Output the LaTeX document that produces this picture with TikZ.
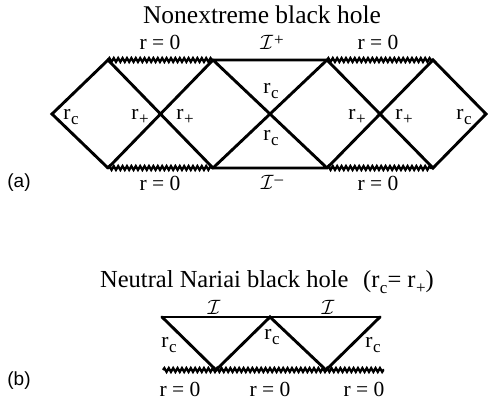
\documentclass[tikz,border=0pt]{standalone}
\usepackage{fontspec}
\setmainfont{Liberation Serif}
\setsansfont{Liberation Sans}
\usetikzlibrary{decorations.pathmorphing}
\newcommand{\rsb}[1]{r\kern0.02em\raisebox{-0.55ex}{\fontsize{17}{17}\selectfont #1}}
\newcommand{\scri}[1]{$\mathcal{I}$\kern0.05em\raisebox{0.35ex}{\fontsize{17}{17}\selectfont #1}}
\begin{document}
\begin{tikzpicture}[x=1pt,y=-1pt,
  edge/.style={line width=2.9pt,line cap=round,line join=miter},
  sing/.style={line width=2.3pt,decorate,decoration={snake,segment length=4.4pt,amplitude=1.9pt}},
  lab/.style={inner sep=0pt,font=\fontsize{21.5}{24}\selectfont},
  ttl/.style={inner sep=0pt,font=\fontsize{25.5}{29}\selectfont},
  ttlb/.style={inner sep=0pt,font=\fontsize{24.5}{28}\selectfont},
  tag/.style={inner sep=0pt,font=\sffamily\fontsize{19}{22}\selectfont}]
\useasboundingbox (0,0) rectangle (488,403);
% ---- (a) vertices
\coordinate (L) at (52,114);
\coordinate (T1) at (108,60);  \coordinate (B1) at (108,168);
\coordinate (T2) at (213,60);  \coordinate (B2) at (213,168);
\coordinate (T3) at (327,60);  \coordinate (B3) at (327,168);
\coordinate (T4) at (433,60);  \coordinate (B4) at (433,168);
\coordinate (R) at (486,114);
\draw[sing] (T1) -- (T2);
\draw[sing] (B1) -- (B2);
\draw[sing] (T3) -- (T4);
\draw[sing] (B3) -- (B4);
\draw[edge] (B1) -- (L) -- (T1) -- (B2) -- (B3) -- (T4) -- (R) -- (B4) -- (T3) -- (T2) -- (B3);
\draw[edge] (B2) -- (T3);
\draw[edge] (T2) -- (B1);
% ---- (a) labels
\node[ttl] (ta) at (262,15) {Nonextreme black hole};
\node[lab] (z1) at (160,42) {r = 0};
\node[lab] (z2) at (378,42) {r = 0};
\node[lab] (z3) at (160,183) {r = 0};
\node[lab] (z4) at (378,183) {r = 0};
\node[lab] (sp) at (272,42) {\scri{+}};
\node[lab] (sm) at (272,182) {\scri{\raisebox{0.1ex}{--}}};
\node[lab] (c1) at (71,117) {\rsb{c}};
\node[lab] (p1) at (140,117) {\rsb{+}};
\node[lab] (p2) at (185,117) {\rsb{+}};
\node[lab] (c2) at (271,91) {\rsb{c}};
\node[lab] (c3) at (271,138) {\rsb{c}};
\node[lab] (p3) at (357,117) {\rsb{+}};
\node[lab] (p4) at (404,117) {\rsb{+}};
\node[lab] (c4) at (464,117) {\rsb{c}};
\node[tag] (a) at (19,183) {(a)};
% ---- (b)
\coordinate (P1) at (162,317);
\coordinate (P2) at (270,317);
\coordinate (P3) at (380,317);
\coordinate (Q1) at (216,370);
\coordinate (Q2) at (326,370);
\coordinate (W1) at (163,370);
\coordinate (W2) at (384,370);
\draw[sing] (W1) -- (W2);
\draw[edge] (P1) -- (P3);
\draw[edge] (P1) -- (Q1) -- (P2) -- (Q2) -- (P3);
\node[ttlb] (tb) at (267,282) {Neutral Nariai black hole\hspace{0.6em}(\rsb{c}= \rsb{+})};
\node[lab] (s1) at (214,307) {$\mathcal{I}$};
\node[lab] (s2) at (328,307) {$\mathcal{I}$};
\node[lab] (d1) at (169,345) {\rsb{c}};
\node[lab] (d2) at (272,337) {\rsb{c}};
\node[lab] (d3) at (373,345) {\rsb{c}};
\node[lab] (y1) at (180,389) {r = 0};
\node[lab] (y2) at (270,389) {r = 0};
\node[lab] (y3) at (364,389) {r = 0};
\node[tag] (b) at (19,381) {(b)};
\end{tikzpicture}
\end{document}
